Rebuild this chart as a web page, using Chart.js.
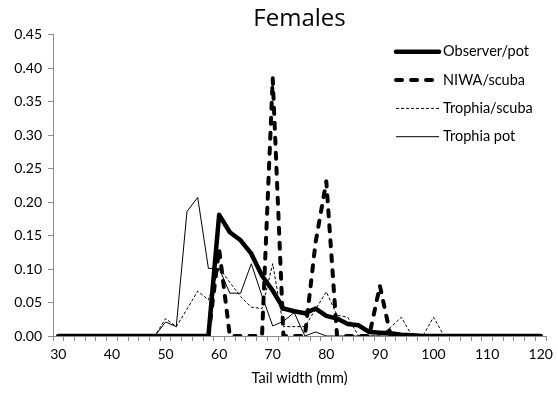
<!DOCTYPE html>
<html>
<head>
<meta charset="utf-8">
<script src="https://cdn.jsdelivr.net/npm/chart.js@4.4.0/dist/chart.umd.min.js"></script>
<style>
body { margin: 0; background: #fff; }
</style>
</head>
<body>
<canvas id="chart" width="558" height="394"></canvas>
<script>
var widths = [30,32,34,36,38,40,42,44,46,48,50,52,54,56,58,60,62,64,66,68,70,72,74,76,78,80,82,84,86,88,90,92,94,96,98,100,102,104,106,108,110,112,114,116,118,120];
var xTickLabels = [30,40,50,60,70,80,90,100,110,120];

var observerPot = [0,0,0,0,0,0,0,0,0,0,0,0,0,0,0,
	0.181,0.155,0.143,0.123,0.09,0.068,0.041,0.037,0.034,0.041,0.03,0.026,0.018,0.016,0.006,0.005,0.004,0.002,0.001,
	0,0,0,0,0,0,0,0,0,0,0,0];
var niwaScuba = [0,0,0,0,0,0,0,0,0,0,0,0,0,0,0,
	0.13,0,0,0,0,0.385,0,0,0,0.14,0.231,0,0,0,0,0.075,0,
	0,0,0,0,0,0,0,0,0,0,0,0,0,0];
var trophiaScuba = [0,0,0,0,0,0,0,0,0,0,
	0.026,0.014,0.04,0.067,0.054,0.102,0.08,0.059,0.043,0.041,0.108,0.014,0.014,0.014,0.04,0.066,0.031,0.028,0,0,0,0.013,0.028,0,0,0.028,0,
	0,0,0,0,0,0,0,0,0];
var trophiaPot = [0,0,0,0,0,0,0,0,0,0,
	0.021,0.014,0.186,0.207,0.101,0.101,0.064,0.064,0.108,0.06,0.015,0.022,0.035,0,0.006,
	0,0,0,0,0,0,0,0,0,0,0,0,0,0,0,0,0,0,0,0,0];

var axisGrey = '#8c8c8c';
var fontFam = 'Lato, "DejaVu Sans", sans-serif';

// legend sits inside the plot, top right, like the Excel original
var insideLegend = {
	id: 'insideLegend',
	afterDatasetsDraw: function(chart) {
		var ctx = chart.ctx, area = chart.chartArea;
		var x0 = area.right - 150, y0 = area.top + 17;
		chart.data.datasets.forEach(function(ds, i) {
			var y = y0 + i * 28.3;
			ctx.save();
			ctx.strokeStyle = ds.borderColor;
			ctx.lineWidth = ds.borderWidth;
			ctx.lineCap = ds.borderCapStyle || 'butt';
			ctx.setLineDash(ds.borderDash || []);
			ctx.beginPath();
			ctx.moveTo(x0, y);
			ctx.lineTo(x0 + 43, y);
			ctx.stroke();
			ctx.setLineDash([]);
			ctx.fillStyle = '#000';
			ctx.font = '14.5px ' + fontFam;
			ctx.textBaseline = 'middle';
			ctx.fillText(ds.label, x0 + 47, y);
			ctx.restore();
		});
	}
};

new Chart(document.getElementById('chart').getContext('2d'), {
	type: 'line',
	data: {
		labels: widths,
		datasets: [
			{label: 'Observer/pot', data: observerPot, borderColor: '#000', borderWidth: 4.5,
				borderCapStyle: 'round', borderJoinStyle: 'round', order: 4},
			{label: 'NIWA/scuba', data: niwaScuba, borderColor: '#000', borderWidth: 4,
				borderDash: [6, 9], borderCapStyle: 'round', borderJoinStyle: 'round', order: 3},
			{label: 'Trophia/scuba', data: trophiaScuba, borderColor: '#000', borderWidth: 1,
				borderDash: [3, 2], order: 2},
			{label: 'Trophia pot', data: trophiaPot, borderColor: '#000', borderWidth: 1, order: 1}
		]
	},
	options: {
		responsive: false,
		animation: false,
		elements: {point: {radius: 0}, line: {tension: 0, fill: false}},
		layout: {padding: {left: 0, right: 8, top: 0, bottom: 0}},
		plugins: {
			legend: {display: false},
			tooltip: {enabled: false},
			title: {
				display: true, text: 'Females', color: '#000', fullSize: false,
				font: {family: '"Open Sans", sans-serif', size: 24, weight: 'normal'},
				padding: {top: 5, bottom: 1}
			}
		},
		scales: {
			x: {
				type: 'category',
				offset: true,
				grid: {display: true, offset: true, drawOnChartArea: false, drawTicks: true,
					tickLength: 5, tickColor: axisGrey},
				border: {display: true, color: axisGrey},
				ticks: {
					autoSkip: false, maxRotation: 0, padding: 5, color: '#000',
					font: {family: fontFam, size: 14},
					callback: function(v, i) {
						var w = widths[i];
						return xTickLabels.indexOf(w) >= 0 ? String(w) : '';
					}
				},
				title: {display: true, text: 'Tail width (mm)', color: '#000',
					font: {family: fontFam, size: 14.5}, padding: {top: 0, bottom: 7}},
				afterFit: function(s) { s.height = 58; }
			},
			y: {
				min: 0, max: 0.45,
				ticks: {stepSize: 0.05, padding: 6, color: '#000',
					font: {family: fontFam, size: 14},
					callback: function(v) { return v.toFixed(2); }},
				grid: {drawOnChartArea: false, tickLength: 5, tickColor: axisGrey},
				border: {color: axisGrey},
				afterFit: function(s) { s.width = 53; }
			}
		}
	},
	plugins: [insideLegend]
});
</script>
</body>
</html>
